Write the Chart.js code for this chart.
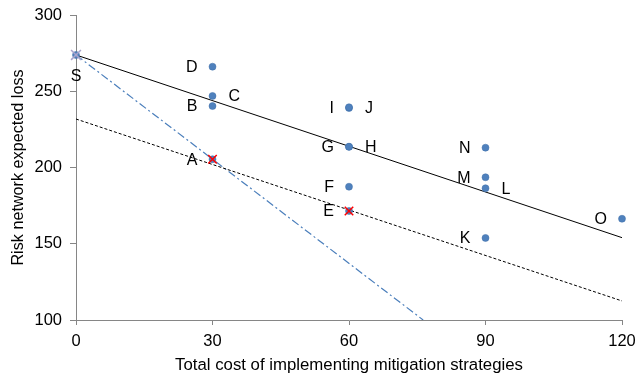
<!DOCTYPE html>
<html>
<head>
<meta charset="utf-8">
<script src="https://cdn.jsdelivr.net/npm/chart.js@4"></script>
<style>
  html, body { margin: 0; padding: 0; background: #fff; }
  .wrap { width: 635px; height: 379px; position: relative; }
</style>
</head>
<body>
<div class="wrap"><canvas class="js-chart"></canvas></div>
<script>
const ctx = document.querySelector(".js-chart").getContext("2d");
const FONT = "'Liberation Sans', Arial, sans-serif";

// strategies (cost, expected loss)
const names = ["S", "A", "B", "C", "D", "E", "F", "G", "H", "I", "J", "K", "L", "M", "N", "O"];
const costs = [0, 30, 30, 30, 30, 60, 60, 60, 60, 60, 60, 90, 90, 90, 90, 120];
const losses = [273.8, 205.4, 240.3, 246.9, 266.1, 171.5, 187.4, 213.6, 213.6, 239, 239.5, 153.8, 186.4, 193.6, 213, 166.4];
const labelSide = ["below", "left", "left", "right", "left", "left", "left", "left", "right", "left", "right", "left", "right", "left", "left", "left"];

// highlighted strategies
const redMarked = ["A", "E"];
const startMarked = ["S"];

// reference lines (x, y endpoints)
const solidX = [0, 120];
const solidY = [273.8, 154];
const dottedX = [0, 120];
const dottedY = [231.8, 112.5];
const dashDotX = [0, 76.3];
const dashDotY = [273.8, 100];

const xTicks = [0, 30, 60, 90, 120];
const yTicks = [100, 150, 200, 250, 300];

const toPoints = (xs, ys) => xs.map((x, i) => ({ x, y: ys[i] }));
const pick = (list) => list.map((n) => {
  const i = names.indexOf(n);
  return { x: costs[i], y: losses[i] };
});

const letterLabels = {
  id: "letterLabels",
  afterDatasetsDraw(chart) {
    const meta = chart.getDatasetMeta(3);
    const c = chart.ctx;
    c.save();
    c.font = "16px " + FONT;
    c.fillStyle = "#000";
    c.textBaseline = "middle";
    meta.data.forEach((pt, i) => {
      const side = labelSide[i];
      if (side === "left") {
        c.textAlign = "right";
        c.fillText(names[i], pt.x - 15, pt.y + 1);
      } else if (side === "right") {
        c.textAlign = "left";
        c.fillText(names[i], pt.x + 16, pt.y + 1);
      } else {
        c.textAlign = "center";
        c.fillText(names[i], pt.x, pt.y + 22);
      }
    });
    c.restore();
  },
};

new Chart(ctx, {
  type: "scatter",
  data: {
    datasets: [
      {
        data: toPoints(solidX, solidY),
        showLine: true,
        borderColor: "#000",
        borderWidth: 1,
        pointRadius: 0,
        fill: false,
        order: 3,
      },
      {
        data: toPoints(dottedX, dottedY),
        showLine: true,
        borderColor: "#000",
        borderWidth: 1,
        borderDash: [3, 2],
        pointRadius: 0,
        fill: false,
        order: 3,
      },
      {
        data: toPoints(dashDotX, dashDotY),
        showLine: true,
        borderColor: "#4a7ebb",
        borderWidth: 1.2,
        borderDash: [8, 3, 2, 3],
        pointRadius: 0,
        fill: false,
        order: 3,
      },
      {
        data: toPoints(costs, losses),
        backgroundColor: "#4f81bd",
        borderColor: "#3f6fa8",
        borderWidth: 0.5,
        pointRadius: 3.5,
        clip: false,
        order: 2,
      },
      {
        data: pick(redMarked),
        pointStyle: "crossRot",
        borderColor: "#ff0000",
        borderWidth: 1.5,
        pointRadius: 6,
        clip: false,
        order: 1,
      },
      {
        data: pick(startMarked),
        pointStyle: "crossRot",
        borderColor: "#a9a4cc",
        borderWidth: 1.5,
        pointRadius: 7,
        clip: false,
        order: 1,
      },
    ],
  },
  plugins: [letterLabels],
  options: {
    responsive: true,
    maintainAspectRatio: false,
    animation: false,
    layout: { padding: { left: 0, right: 13, top: 15, bottom: 0 } },
    plugins: {
      legend: { display: false },
      tooltip: { enabled: false },
    },
    scales: {
      x: {
        type: "linear",
        min: 0,
        max: 120,
        afterBuildTicks(scale) {
          scale.ticks = xTicks.map((v) => ({ value: v }));
        },
        afterFit(scale) {
          scale.height = 59;
          scale.paddingRight = 0;
          scale.paddingLeft = 0;
        },
        grid: {
          display: true,
          drawOnChartArea: false,
          drawTicks: true,
          tickLength: 5,
          color: "#868686",
        },
        border: { color: "#868686", width: 1 },
        ticks: {
          color: "#000",
          padding: 7,
          maxRotation: 0,
          font: { family: FONT, size: 16.5 },
        },
        title: {
          display: true,
          text: "Total cost of implementing mitigation strategies",
          color: "#000",
          padding: { top: 0, bottom: 4 },
          font: { family: FONT, size: 16.8 },
        },
      },
      y: {
        type: "linear",
        min: 100,
        max: 300,
        afterBuildTicks(scale) {
          scale.ticks = yTicks.map((v) => ({ value: v }));
        },
        afterFit(scale) {
          scale.width = 76;
          scale.paddingTop = 0;
          scale.paddingBottom = 0;
        },
        grid: {
          display: true,
          drawOnChartArea: false,
          drawTicks: true,
          tickLength: 6,
          color: "#868686",
        },
        border: { color: "#868686", width: 1 },
        ticks: {
          color: "#000",
          padding: 8,
          font: { family: FONT, size: 16.5 },
        },
        title: {
          display: true,
          text: "Risk network expected loss",
          color: "#000",
          padding: { top: 9, bottom: 0 },
          font: { family: FONT, size: 16.2 },
        },
      },
    },
  },
});
</script>
</body>
</html>
